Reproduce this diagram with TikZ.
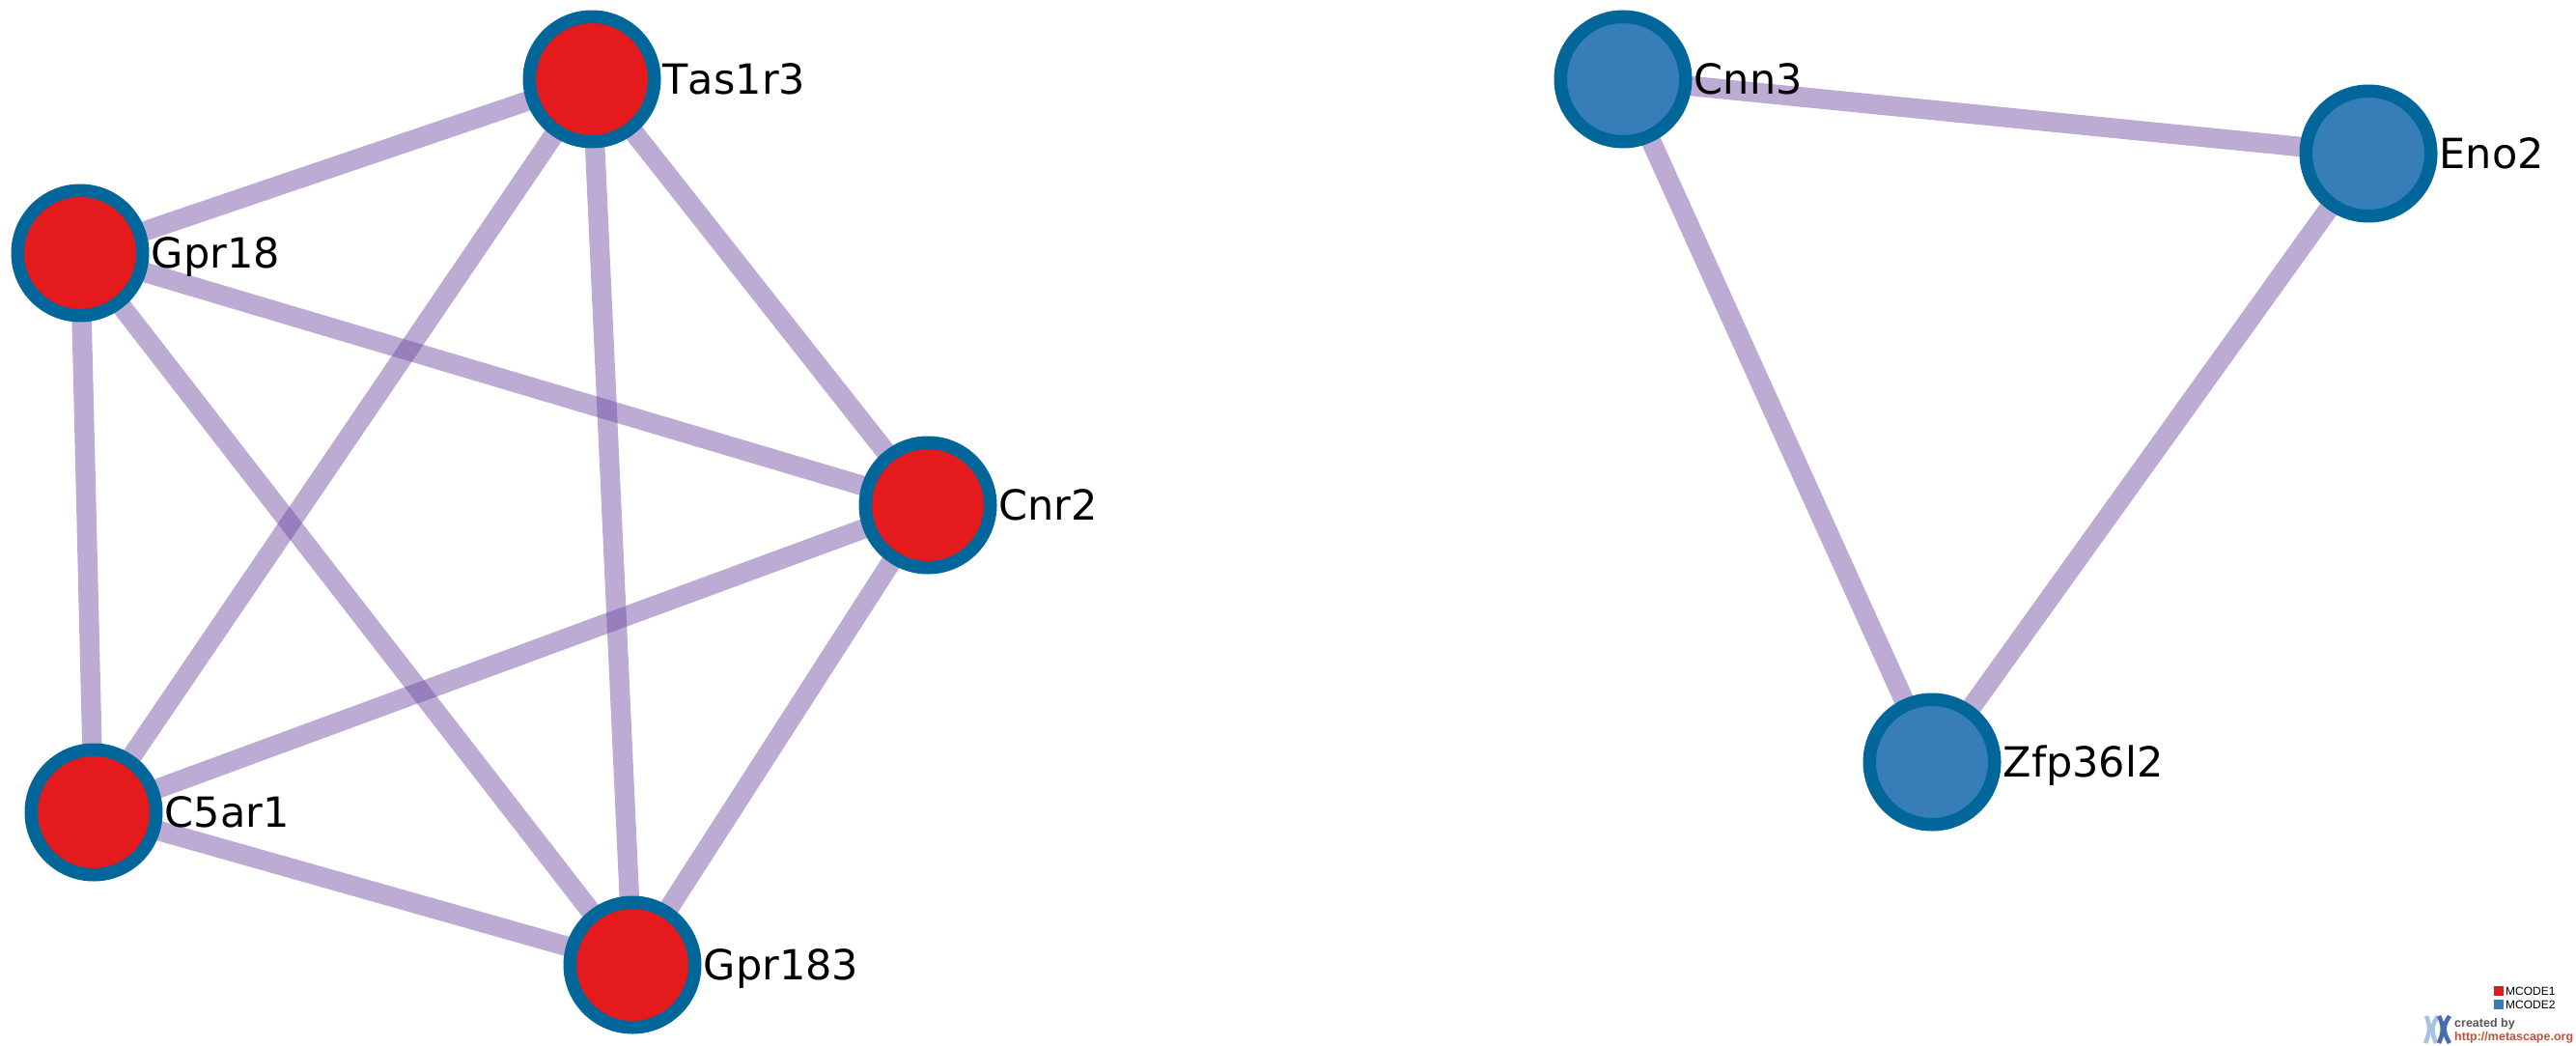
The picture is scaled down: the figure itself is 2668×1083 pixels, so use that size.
\documentclass[tikz,border=0pt]{standalone}
\usepackage{fontspec}
\setmainfont[Kerning=Off]{DejaVu Sans}
\newfontfamily\legendfont{Liberation Sans}
\usetikzlibrary{positioning,backgrounds}

\definecolor{edgepurple}{RGB}{106,70,160}
\definecolor{ringblue}{RGB}{1,102,153}
\definecolor{mcodered}{RGB}{228,26,28}
\definecolor{mcodeblue}{RGB}{55,126,184}
\definecolor{logolight}{RGB}{170,192,228}
\definecolor{logodark}{RGB}{72,108,176}
\definecolor{logogray}{RGB}{85,85,85}
\definecolor{logored}{RGB}{200,78,56}

\tikzset{
    gene/.style={circle, draw=ringblue, line width=13.5pt, minimum size=129.5pt, inner sep=0pt},
    red gene/.style={gene, fill=mcodered},
    blue gene/.style={gene, fill=mcodeblue},
    genelabel/.style={right=2pt of #1, inner sep=0pt, text height=31pt, text depth=0pt, font=\fontsize{43}{50}\selectfont},
    edge/.style={draw=edgepurple, opacity=0.45, line width=20.5pt},
    swatch/.style={minimum size=10pt, inner sep=0pt, outer sep=0pt},
    legendtext/.style={right=2pt of #1, inner sep=0pt, font=\legendfont\fontsize{12}{14}\selectfont},
    logotext/.style={anchor=base west, inner sep=0pt, font=\legendfont\bfseries\fontsize{12.5}{14}\selectfont},
    arm/.style={line width=4.5pt},
}

\begin{document}
\begin{tikzpicture}[x=1pt, y=-1pt]
    \useasboundingbox (0,0) rectangle (2668,1083);

    % Cluster one.
    \node [red gene] (tas) at (613,82) {};
    \node [red gene] (gpreighteen) at (83,262) {};
    \node [red gene] (cnr) at (961,523) {};
    \node [red gene] (cfive) at (97,841) {};
    \node [red gene] (gprhigh) at (655,999) {};

    % Cluster two.
    \node [blue gene] (cnn) at (1681,82) {};
    \node [blue gene] (eno) at (2453,159) {};
    \node [blue gene] (zfp) at (2001,789) {};

    % Gene names.
    \node [genelabel=tas] (tastext) {Tas1r3};
    \node [genelabel=gpreighteen] (gpreighteentext) {Gpr18};
    \node [genelabel=cnr] (cnrtext) {Cnr2};
    \node [genelabel=cfive] (cfivetext) {C5ar1};
    \node [genelabel=gprhigh] (gprhightext) {Gpr183};
    \node [genelabel=cnn] (cnntext) {Cnn3};
    \node [genelabel=eno] (enotext) {Eno2};
    \node [genelabel=zfp] (zfptext) {Zfp36l2};

    % Edges under the nodes.
    \begin{pgfonlayer}{background}
        \foreach \from/\to in {tas/gpreighteen, tas/cnr, tas/cfive, tas/gprhigh,
                gpreighteen/cnr, gpreighteen/cfive, gpreighteen/gprhigh,
                cnr/cfive, cnr/gprhigh, cfive/gprhigh,
                cnn/eno, cnn/zfp, eno/zfp}
            \draw [edge] (\from.center) -- (\to.center);
    \end{pgfonlayer}

    % Legend.
    \node [swatch, fill=mcodered] (swatchone) at (2588,1026) {};
    \node [swatch, fill=mcodeblue] (swatchtwo) at (2588,1040) {};
    \node [legendtext=swatchone] (legendone) {MCODE1};
    \node [legendtext=swatchtwo] (legendtwo) {MCODE2};

    % Logo.
    \draw [arm, logolight] (2513,1052) .. controls (2517,1062) and (2517,1068) .. (2512,1080);
    \draw [arm, logolight] (2525,1052) .. controls (2518,1062) and (2518,1068) .. (2523,1080);
    \draw [arm, logodark] (2526,1052) .. controls (2531,1062) and (2531,1068) .. (2526,1080);
    \draw [arm, logodark] (2537,1052) .. controls (2530,1062) and (2530,1068) .. (2537,1080);
    \node [logotext, text=logogray] (createdby) at (2542,1063) {created by};
    \node [logotext, text=logored] (logourl) at (2542,1077) {http://metascape.org};
\end{tikzpicture}
\end{document}
